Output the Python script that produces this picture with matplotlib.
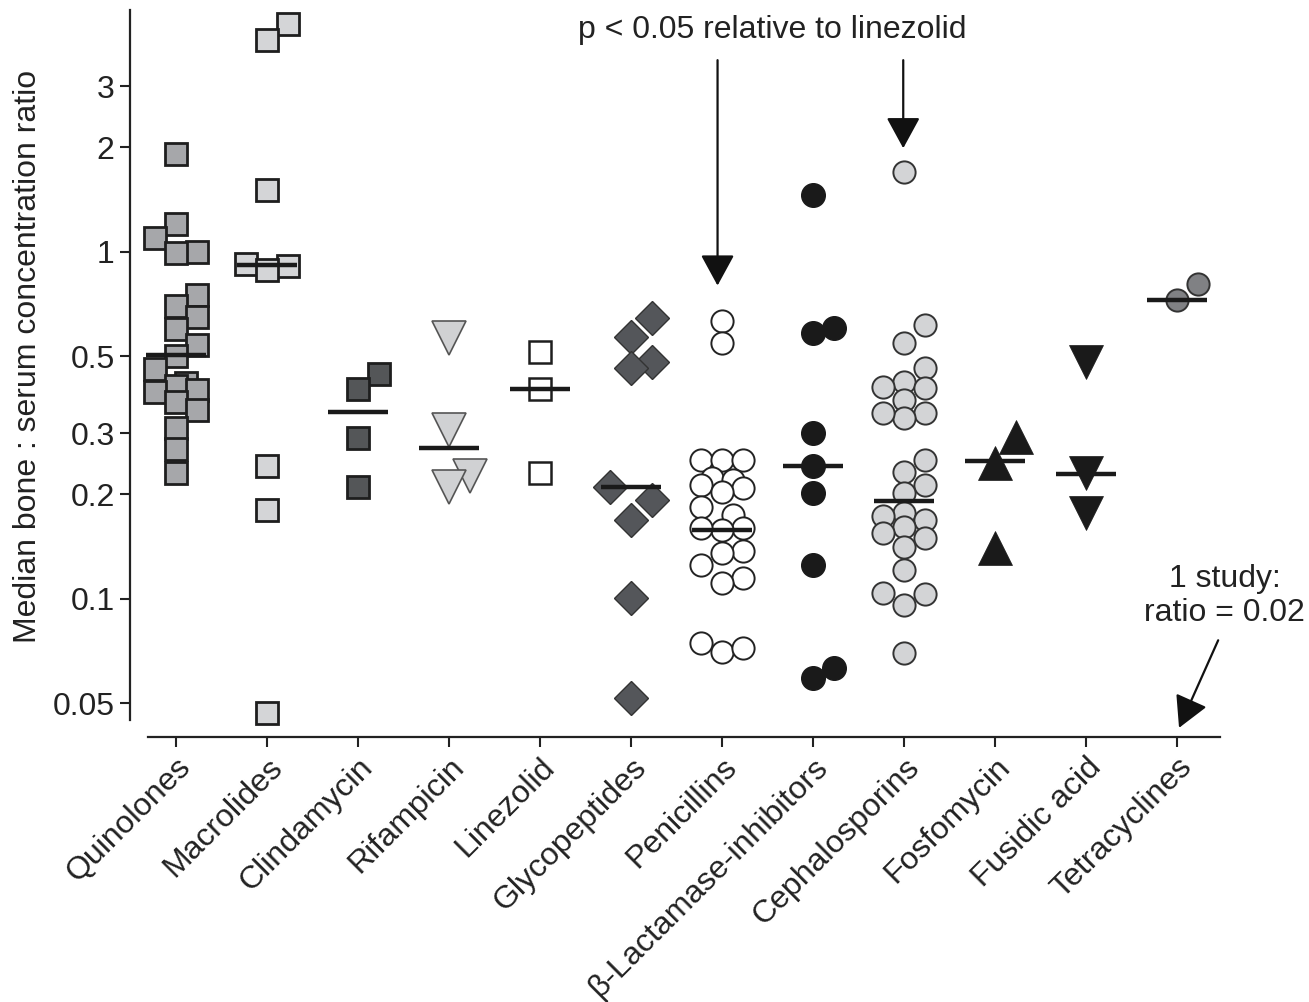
import numpy as np
import matplotlib
matplotlib.use('Agg')
import matplotlib.pyplot as plt

plt.rcParams['font.family'] = ['Liberation Sans', 'DejaVu Sans']

categories = ['Quinolones', 'Macrolides', 'Clindamycin', 'Rifampicin', 'Linezolid',
              'Glycopeptides', 'Penicillins', '\u03b2-Lactamase-inhibitors', 'Cephalosporins',
              'Fosfomycin', 'Fusidic acid', 'Tetracyclines']

# median bone : serum ratios, one value per study
quinolones = [1.92, 1.20, 1.10, 1.0, 0.99, 0.75, 0.70, 0.65, 0.60, 0.54, 0.50, 0.46,
              0.42, 0.41, 0.40, 0.395, 0.37, 0.35, 0.31, 0.27, 0.23]
macrolides = [4.54, 4.08, 1.51, 0.923, 0.91, 0.887, 0.242, 0.18, 0.047]
clindamycin = [0.445, 0.403, 0.291, 0.21]
rifampicin = [0.565, 0.307, 0.226, 0.21]
linezolid = [0.515, 0.403, 0.231]
glycopeptides = [0.645, 0.569, 0.482, 0.463, 0.21, 0.193, 0.169, 0.1007, 0.0518]
penicillins = [0.633, 0.547, 0.252, 0.252, 0.252, 0.223, 0.220, 0.213, 0.209, 0.203,
               0.184, 0.175, 0.16, 0.158, 0.16, 0.137, 0.136, 0.125, 0.115, 0.111,
               0.0747, 0.0704, 0.072]
bl_inhibitors = [1.46, 0.604, 0.585, 0.30, 0.242, 0.202, 0.125, 0.0633, 0.0592]
cephalosporins = [1.70, 0.616, 0.547, 0.463, 0.422, 0.405, 0.408, 0.375, 0.344, 0.332,
                  0.344, 0.252, 0.232, 0.213, 0.202, 0.177, 0.173, 0.169, 0.161, 0.155,
                  0.150, 0.141, 0.121, 0.103, 0.104, 0.096, 0.070]
fosfomycin = [0.293, 0.247, 0.140]
fusidic_acid = [0.482, 0.231, 0.177]
tetracyclines = [0.809, 0.727]

medians = [0.505, 0.917, 0.346, 0.272, 0.403, 0.21, 0.158, 0.242, 0.191, 0.25, 0.229, 0.727]

groups = [quinolones, macrolides, clindamycin, rifampicin, linezolid, glycopeptides,
          penicillins, bl_inhibitors, cephalosporins, fosfomycin, fusidic_acid, tetracyclines]

# marker, face, edge, size (pt), edge width, footprint (px) used for spreading
styles = [
    ('s', '#a6a7aa', '#1e1e1e', 16.5, 2.0, 23),
    ('s', '#d4d5d7', '#1e1e1e', 16.5, 2.0, 23),
    ('s', '#545658', '#1e1e1e', 16.5, 2.0, 23),
    ('v', '#d0d1d3', '#555555', 24, 1.2, 30),
    ('s', 'white', '#1e1e1e', 16.5, 1.8, 23),
    ('D', '#54565a', '#333333', 17.5, 1.0, 30),
    ('o', 'white', '#222222', 16, 1.4, 22),
    ('o', '#1a1a1a', '#1a1a1a', 17, 1.0, 24),
    ('o', '#d3d4d6', '#333333', 16, 1.4, 22),
    ('^', '#1a1a1a', '#1a1a1a', 24, 0.5, 30),
    ('v', '#1a1a1a', '#1a1a1a', 24, 0.5, 30),
    ('o', '#808184', '#333333', 16, 1.4, 22),
]

fig = plt.figure(figsize=(13.09, 10.02), dpi=100)
ax = fig.add_axes([130 / 1309, 1 - 737 / 1002, 1090 / 1309, 727 / 1002])
ax.set_yscale('log')
ax.set_xlim(-0.505, 11.47)
ax.set_ylim(0.0400, 4.98)


def swarm(i, vals, diam_px, step_px):
    # place points bottom to top, pushing them sideways when they would overlap
    tr = ax.transData
    px_per_unit = tr.transform((1, 1))[0] - tr.transform((0, 1))[0]
    order = np.argsort(vals)
    placed = []
    xs = np.zeros(len(vals))
    for k in order:
        py = tr.transform((i, vals[k]))[1]
        best, best_d = 0, -1
        for c in [0, 1, -1, 0.5, -0.5]:
            dx = c * step_px
            d = min([np.hypot(dx - qx, py - qy) for qx, qy in placed] + [1e9])
            if d >= 0.9 * diam_px:
                best = dx
                break
            if d > best_d:
                best, best_d = dx, d
        placed.append((best, py))
        xs[k] = i + best / px_per_unit
    return xs


for i, (vals, st) in enumerate(zip(groups, styles)):
    m, fc, ec, ms, mew, foot = st
    xs = swarm(i, vals, foot, 21)
    ax.plot(xs, vals, linestyle='none', marker=m, markersize=ms, markerfacecolor=fc,
            markeredgecolor=ec, markeredgewidth=mew, zorder=3)

for i, med in enumerate(medians):
    ax.hlines(med, i - 0.33, i + 0.33, color='#1a1a1a', lw=3.2, zorder=4)

# axes styling
for s in ['top', 'right']:
    ax.spines[s].set_visible(False)
ax.spines['left'].set_bounds(0.0448, 4.98)
ax.spines['bottom'].set_bounds(-0.31, 11.47)
for s in ['left', 'bottom']:
    ax.spines[s].set_linewidth(1.6)
    ax.spines[s].set_color('#222222')

yt = [0.05, 0.1, 0.2, 0.3, 0.5, 1, 2, 3]
ax.set_yticks(yt)
ax.set_yticklabels(['0.05', '0.1', '0.2', '0.3', '0.5', '1', '2', '3'])
ax.minorticks_off()
ax.set_xticks(range(len(categories)))
ax.set_xticklabels(categories, rotation=45, ha='right', va='top', rotation_mode='anchor')
ax.tick_params(axis='both', direction='out', length=7, width=1.5, color='#222222',
               labelsize=23, labelcolor='#222222', pad=4)
ax.set_ylabel('Median bone : serum concentration ratio', fontsize=23, color='#222222')
ax.yaxis.set_label_coords(-0.08, 0.524)

# annotations
arrow = dict(arrowstyle='-|>,head_length=0.55,head_width=0.3', mutation_scale=35,
             lw=1.6, color='#111111', shrinkA=0, shrinkB=0)
ax.text(6.55, 4.35, 'p < 0.05 relative to linezolid', ha='center', va='center',
        fontsize=23, color='#222222')
ax.annotate('', xy=(5.95, 0.80), xytext=(5.95, 3.57), arrowprops=arrow)
ax.annotate('', xy=(7.99, 1.99), xytext=(7.99, 3.57), arrowprops=arrow)
ax.text(11.52, 0.102, '1 study:\nratio = 0.02', ha='center', va='center', fontsize=23,
        color='#222222', linespacing=1.15)
ax.annotate('', xy=(11.02, 0.0425), xytext=(11.45, 0.076), arrowprops=arrow,
            annotation_clip=False)

fig.savefig('out.png', dpi=100)
